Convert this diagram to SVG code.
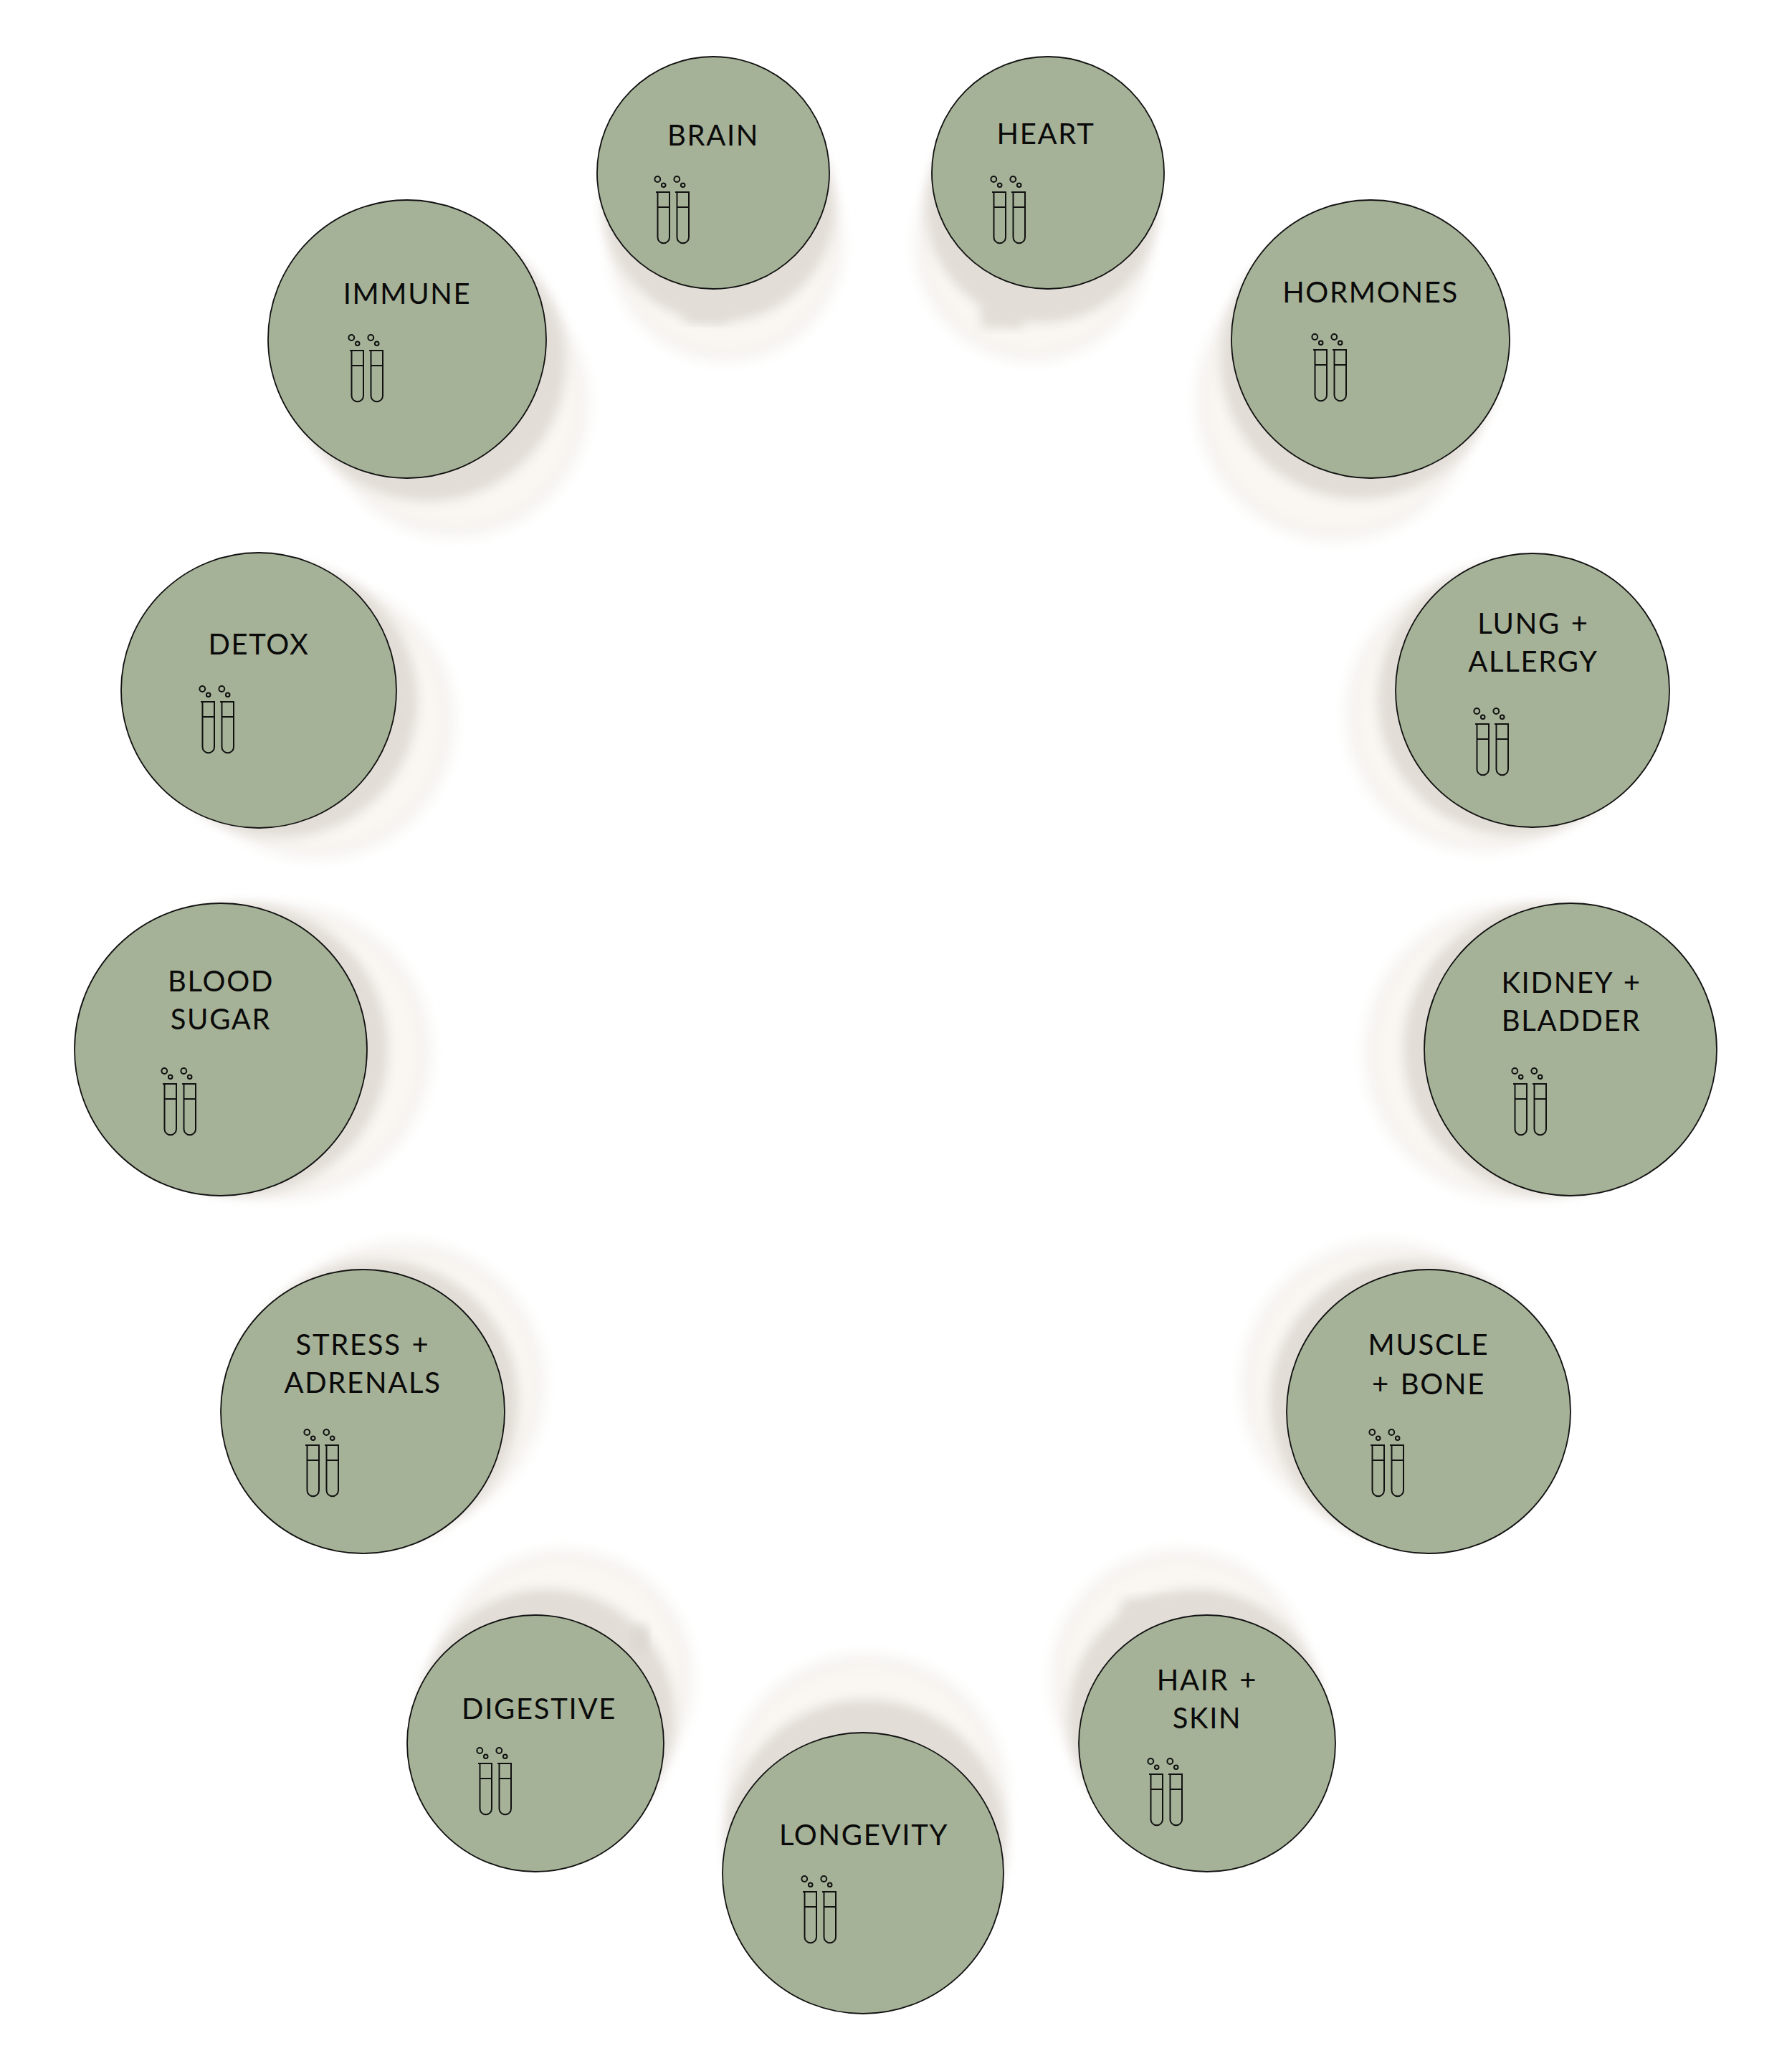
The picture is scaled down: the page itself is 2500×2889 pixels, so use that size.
<svg xmlns="http://www.w3.org/2000/svg" width="2500" height="2889" viewBox="0 0 2500 2889">
<style>
.disc{fill:#a6b298;stroke:#111;stroke-width:1.8}
.so{fill:#f4f2ee;filter:url(#b2)}
.sl{fill:#faf7f3;filter:url(#b2)}
.sd{fill:#e2ddd7;filter:url(#b1)}
.t{font-family:"Lato","Liberation Sans",sans-serif;font-size:40px;letter-spacing:1.7px;word-spacing:3px;fill:#0a0a0a;text-anchor:middle}
.i{fill:none;stroke:#111;stroke-width:2}
</style>
<defs>
<filter id="b1" x="-20%" y="-20%" width="140%" height="140%"><feGaussianBlur stdDeviation="8"/></filter>
<filter id="b2" x="-20%" y="-20%" width="140%" height="140%"><feGaussianBlur stdDeviation="10"/></filter>
<g id="tube"><path d="M0 0H20M2.500 21H19M2.500 0V63a8 8 0 0 0 16.500 0V0"/><circle cx="2.300" cy="-18" r="3.900"/><circle cx="10.700" cy="-9.700" r="2.800"/></g>
<g id="icon" class="i"><use href="#tube"/><use href="#tube" x="27"/></g>
</defs>
<rect width="2500" height="2889" fill="#fff"/>
<g id="brain"><circle class="so" cx="1013" cy="341" r="162"/><circle class="sl" cx="1013" cy="341" r="148"/><circle class="sd" cx="1003" cy="288" r="162"/><rect class="sd" x="955" y="420" width="60" height="30"/><circle class="disc" cx="995" cy="241" r="162"/><text class="t" x="995" y="203">BRAIN</text><use href="#icon" x="915" y="268"/></g>
<g id="heart"><circle class="so" cx="1440" cy="341" r="162"/><circle class="sl" cx="1440" cy="341" r="148"/><circle class="sd" cx="1453" cy="289" r="162"/><rect class="sd" x="1368" y="420" width="60" height="38"/><circle class="disc" cx="1462" cy="241" r="162"/><text class="t" x="1459" y="201">HEART</text><use href="#icon" x="1384" y="268"/></g>
<g id="hormones"><circle class="so" cx="1864" cy="559" r="194"/><circle class="sl" cx="1864" cy="559" r="180"/><circle class="sd" cx="1896" cy="503" r="194"/><circle class="disc" cx="1912" cy="473" r="194"/><text class="t" x="1912" y="422">HORMONES</text><use href="#icon" x="1832" y="488"/></g>
<g id="immune"><circle class="so" cx="634" cy="562" r="186"/><circle class="sl" cx="634" cy="562" r="172"/><circle class="sd" cx="596" cy="506" r="194"/><circle class="disc" cx="568" cy="473" r="194"/><text class="t" x="568" y="424">IMMUNE</text><use href="#icon" x="488" y="489"/></g>
<g id="lung-allergy"><circle class="so" cx="2070" cy="996" r="191"/><circle class="sl" cx="2070" cy="996" r="177"/><circle class="sd" cx="2112" cy="975" r="191"/><circle class="disc" cx="2138" cy="963" r="191"/><text class="t" x="2139" y="884">LUNG +</text><text class="t" x="2139" y="937">ALLERGY</text><use href="#icon" x="2058" y="1010"/></g>
<g id="detox"><circle class="so" cx="441" cy="1005" r="192"/><circle class="sl" cx="441" cy="1005" r="178"/><circle class="sd" cx="391" cy="977" r="192"/><circle class="disc" cx="361" cy="963" r="192"/><text class="t" x="361" y="913">DETOX</text><use href="#icon" x="280" y="979"/></g>
<g id="blood-sugar"><circle class="so" cx="396" cy="1467" r="204"/><circle class="sl" cx="396" cy="1467" r="190"/><circle class="sd" cx="338" cy="1464" r="204"/><circle class="disc" cx="308" cy="1464" r="204"/><text class="t" x="308" y="1383">BLOOD</text><text class="t" x="308" y="1436">SUGAR</text><use href="#icon" x="227" y="1512"/></g>
<g id="kidney-bladder"><circle class="so" cx="2109" cy="1467" r="204"/><circle class="sl" cx="2109" cy="1467" r="190"/><circle class="sd" cx="2161" cy="1464" r="204"/><circle class="disc" cx="2191" cy="1464" r="204"/><text class="t" x="2192" y="1385">KIDNEY +</text><text class="t" x="2192" y="1438">BLADDER</text><use href="#icon" x="2111" y="1512"/></g>
<g id="stress-adrenals"><circle class="so" cx="561" cy="1931" r="198"/><circle class="sl" cx="561" cy="1931" r="184"/><circle class="sd" cx="526" cy="1955" r="198"/><circle class="disc" cx="506" cy="1969" r="198"/><text class="t" x="506" y="1890">STRESS +</text><text class="t" x="506" y="1943">ADRENALS</text><use href="#icon" x="426" y="2016"/></g>
<g id="muscle-bone"><circle class="so" cx="1931" cy="1931" r="198"/><circle class="sl" cx="1931" cy="1931" r="184"/><circle class="sd" cx="1969" cy="1955" r="198"/><circle class="disc" cx="1993" cy="1969" r="198"/><text class="t" x="1993" y="1890">MUSCLE</text><text class="t" x="1993" y="1945">+ BONE</text><use href="#icon" x="1912" y="2016"/></g>
<g id="digestive"><circle class="so" cx="787" cy="2342" r="179"/><circle class="sl" cx="787" cy="2342" r="165"/><circle class="sd" cx="763" cy="2395" r="179"/><rect x="882" y="2268" width="22" height="36" fill="#dcd7d1" filter="url(#b1)"/><circle class="disc" cx="747" cy="2432" r="179"/><text class="t" x="752" y="2398">DIGESTIVE</text><use href="#icon" x="667" y="2460"/></g>
<g id="hair-skin"><circle class="so" cx="1646" cy="2342" r="179"/><circle class="sl" cx="1646" cy="2342" r="165"/><circle class="sd" cx="1668" cy="2395" r="179"/><rect class="sd" x="1565" y="2230" width="65" height="50"/><circle class="disc" cx="1684" cy="2432" r="179"/><text class="t" x="1684" y="2358">HAIR +</text><text class="t" x="1684" y="2411">SKIN</text><use href="#icon" x="1603" y="2475"/></g>
<g id="longevity"><circle class="so" cx="1208" cy="2505" r="196"/><circle class="sl" cx="1208" cy="2505" r="182"/><circle class="sd" cx="1208" cy="2566" r="196"/><circle class="disc" cx="1204" cy="2613" r="196"/><text class="t" x="1205" y="2574">LONGEVITY</text><use href="#icon" x="1120" y="2639"/></g>
</svg>
